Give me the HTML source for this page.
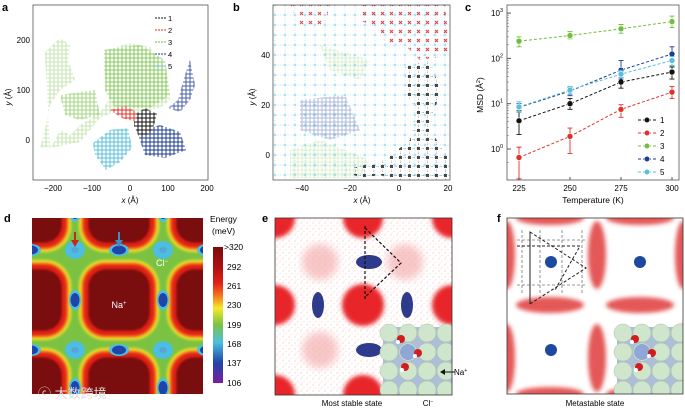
<!DOCTYPE html>
<html><head><meta charset="utf-8"><style>
html,body{margin:0;padding:0;width:685px;height:408px;overflow:hidden;background:#fff;}
svg{display:block;font-family:"Liberation Sans","Noto Sans CJK SC",sans-serif;}
</style></head><body>
<svg id="fig" width="685" height="408" viewBox="0 0 685 408" xmlns="http://www.w3.org/2000/svg">
<defs>
<pattern id="hg" width="4" height="4" patternUnits="userSpaceOnUse"><path d="M0 2H4M2 0V4" stroke="#6fbf3a" stroke-width="0.8"/></pattern>
<pattern id="hb" width="4" height="4" patternUnits="userSpaceOnUse"><path d="M0 2H4M2 0V4" stroke="#1d3b8f" stroke-width="1"/></pattern>
<pattern id="hc" width="4" height="4" patternUnits="userSpaceOnUse"><path d="M0 2H4M2 0V4" stroke="#56bfdc" stroke-width="1"/></pattern>
<pattern id="hk" width="4" height="4" patternUnits="userSpaceOnUse"><path d="M0 2H4M2 0V4" stroke="#111" stroke-width="1"/></pattern>
<pattern id="hr" width="4" height="4" patternUnits="userSpaceOnUse"><path d="M0 2H4M2 0V4" stroke="#e0302a" stroke-width="1"/></pattern>
<pattern id="gridb" width="10" height="10" patternUnits="userSpaceOnUse"><path d="M0 5H10M5 0V10" stroke="#8fd3e8" stroke-width="0.7" stroke-dasharray="1 1.5"/><circle cx="5" cy="5" r="1.3" fill="#8fd3e8"/></pattern>
<pattern id="bigk" width="9" height="9" patternUnits="userSpaceOnUse"><rect x="3" y="3" width="3" height="3" fill="#111"/><path d="M0 4.5H9M4.5 0V9" stroke="#555" stroke-width="0.5" stroke-dasharray="1 1.5"/></pattern>
<pattern id="bigr" width="9" height="9" patternUnits="userSpaceOnUse"><path d="M3 3l3 3M6 3l-3 3" stroke="#d8262a" stroke-width="1.2"/></pattern>
<pattern id="speck" width="6" height="6" patternUnits="userSpaceOnUse"><circle cx="1" cy="1" r="0.5" fill="#e03030"/><circle cx="4" cy="3.5" r="0.4" fill="#e03030"/><circle cx="2" cy="5" r="0.35" fill="#e03030"/></pattern>
<filter id="bl4"><feGaussianBlur stdDeviation="4"/></filter>
<filter id="bl2"><feGaussianBlur stdDeviation="2"/></filter>
<filter id="bl1"><feGaussianBlur stdDeviation="1.2"/></filter>
<linearGradient id="cbar" x1="0" y1="0" x2="0" y2="1">
<stop offset="0" stop-color="#7a0a0a"/><stop offset="0.15" stop-color="#b01010"/><stop offset="0.27" stop-color="#e32219"/><stop offset="0.36" stop-color="#f47a1c"/><stop offset="0.45" stop-color="#f5e92a"/><stop offset="0.57" stop-color="#7cc242"/><stop offset="0.7" stop-color="#4cc0e0"/><stop offset="0.85" stop-color="#2144a8"/><stop offset="1" stop-color="#7a1ea0"/></linearGradient>
</defs>

<g font-weight="bold" font-size="11">
<text x="2" y="11">a</text><text x="233" y="11">b</text><text x="465" y="11">c</text>
<text x="4" y="222">d</text><text x="262" y="222">e</text><text x="497" y="222">f</text>
</g>

<!-- PANEL A -->
<g>
<rect x="33" y="5" width="175" height="175" fill="#fff" stroke="#555" stroke-width="0.8"/>
<g>
<path d="M45 52 L60 38 L70 45 L68 60 L75 80 L60 90 L50 105 L45 130 L40 148 L52 146 L60 130 L70 135 L80 125 L92 118 L104 108 L110 95 L104 70 L108 50 L130 43 L150 47 L160 62 L168 80 L170 100 L160 108 L140 112 L118 110 L100 118 L80 142 L60 146 L50 148 Z" fill="url(#hg)" opacity="0.5"/>
<path d="M104 50 L140 45 L165 60 L170 95 L150 108 L115 108 L105 90 Z" fill="url(#hg)" opacity="0.9"/>
<path d="M60 95 L95 90 L100 115 L80 120 L65 115 Z" fill="url(#hg)" opacity="0.8"/>
<path d="M93 143 L110 130 L128 128 L132 148 L120 162 L106 170 L95 155 Z" fill="url(#hc)"/>
<path d="M137 132 L160 125 L180 132 L186 150 L165 158 L145 155 Z" fill="url(#hb)"/>
<path d="M168 108 L178 100 L185 75 L190 60 L195 85 L190 100 L180 112 Z" fill="url(#hb)" opacity="0.8"/>
<path d="M134 115 L145 108 L157 114 L152 132 L140 138 L134 126 Z" fill="url(#hk)"/>
<path d="M110 110 L125 106 L137 112 L136 122 L122 118 Z" fill="url(#hr)"/>
</g>
<g font-size="7.5">
<line x1="155" y1="18" x2="166" y2="18" stroke="#111" stroke-dasharray="2 1"/><text x="168" y="21">1</text>
<line x1="155" y1="30" x2="166" y2="30" stroke="#e0302a" stroke-dasharray="2 1"/><text x="168" y="33">2</text>
<line x1="155" y1="42" x2="166" y2="42" stroke="#6fbf3a" stroke-dasharray="2 1"/><text x="168" y="45">3</text>
<line x1="155" y1="54" x2="166" y2="54" stroke="#1d3b8f" stroke-dasharray="2 1"/><text x="168" y="57">4</text>
<line x1="155" y1="66" x2="166" y2="66" stroke="#56bfdc" stroke-dasharray="2 1"/><text x="168" y="69">5</text>
</g>
<g font-size="8" text-anchor="middle">
<text x="53" y="191">−200</text><text x="92" y="191">−100</text><text x="130" y="191">0</text><text x="168" y="191">100</text><text x="207" y="191">200</text>
</g>
<g font-size="8" text-anchor="end">
<text x="30" y="43">200</text><text x="30" y="93">100</text><text x="30" y="143">0</text>
</g>
<text x="130" y="203" font-size="8" text-anchor="middle"><tspan font-style="italic">x</tspan> (Å)</text>
<text transform="translate(11,97) rotate(-90)" font-size="8" text-anchor="middle"><tspan font-style="italic">y</tspan> (Å)</text>
</g>

<!-- PANEL B -->
<g>
<rect x="273" y="5" width="177" height="175" fill="url(#gridb)" opacity="0.7"/>
<path d="M300 100 L345 95 L360 130 L330 140 L300 130 Z" fill="url(#hb)" opacity="0.35"/>
<path d="M290 150 L320 140 L370 160 L360 178 L290 178 Z" fill="url(#hg)" opacity="0.3"/>
<path d="M320 45 L370 60 L360 80 L330 70 Z" fill="url(#hg)" opacity="0.3"/>
<path d="M290 5 L330 5 L325 25 L300 25 Z" fill="url(#bigr)" opacity="0.8"/>
<path d="M360 5 L445 5 L450 55 L420 60 L405 45 L385 42 L380 30 L360 20 Z" fill="url(#bigr)" opacity="0.85"/>
<path d="M405 65 L430 60 L440 90 L430 130 L450 160 L450 180 L395 180 L380 175 L360 178 L345 170 L385 160 L410 140 L415 110 L405 90 Z" fill="url(#bigk)" opacity="0.8"/>
<rect x="273" y="5" width="177" height="175" fill="none" stroke="#555" stroke-width="0.8"/>
<g font-size="8" text-anchor="middle">
<text x="302" y="191">−40</text><text x="350" y="191">−20</text><text x="399" y="191">0</text><text x="448" y="191">20</text>
</g>
<g font-size="8" text-anchor="end">
<text x="270" y="58">40</text><text x="270" y="108">20</text><text x="270" y="158">0</text>
</g>
<text x="362" y="203" font-size="8" text-anchor="middle"><tspan font-style="italic">x</tspan> (Å)</text>
<text transform="translate(255,97) rotate(-90)" font-size="8" text-anchor="middle"><tspan font-style="italic">y</tspan> (Å)</text>
</g>

<!-- PANEL C chart -->
<g id="chartc">
<rect x="507" y="5" width="172" height="175" fill="#fff" stroke="#555" stroke-width="0.8"/>
</g>

<!-- PANEL D -->
<g>
<clipPath id="cd"><rect x="32" y="218" width="171" height="176"/></clipPath>
<g clip-path="url(#cd)">
<rect x="32" y="218" width="171" height="176" fill="#7cc242"/>
<g id="naSquares" filter="url(#bl1)"></g>
<g id="clSpots"></g>
</g>
<path d="M75 232 V244" stroke="#c8261f" stroke-width="2"/><path d="M71 240 L75 247 L79 240Z" fill="#c8261f"/>
<path d="M119 232 V244" stroke="#3b8fc4" stroke-width="2"/><path d="M115 240 L119 247 L123 240Z" fill="#3b8fc4"/>
<text x="162" y="266" font-size="9" fill="#fff" text-anchor="middle">Cl<tspan font-size="6" dy="-3">−</tspan></text>
<text x="119" y="308" font-size="9" fill="#fff" text-anchor="middle">Na<tspan font-size="6" dy="-3">+</tspan></text>
<rect x="213" y="247" width="10" height="136" fill="url(#cbar)"/>
<g font-size="8.5">
<text x="210" y="222">Energy</text><text x="212" y="234">(meV)</text>
<text x="224" y="250">&gt;320</text><text x="227" y="270">292</text><text x="227" y="289">261</text><text x="227" y="308">230</text><text x="227" y="328">199</text><text x="227" y="347">168</text><text x="227" y="366">137</text><text x="227" y="386">106</text>
</g>
<text x="38" y="398" font-size="13" fill="#ddd">ⓒ 大数跨境</text>
</g>

<!-- PANEL E -->
<g>
<clipPath id="ce"><rect x="275" y="218" width="177" height="177"/></clipPath>
<g clip-path="url(#ce)">
<rect x="275" y="218" width="177" height="177" fill="#fff"/>
<rect x="275" y="218" width="177" height="177" fill="url(#speck)" opacity="0.5"/>
<g id="eBlobs"></g>
<ellipse cx="369" cy="262" rx="13" ry="7" fill="#2e3a8c"/><ellipse cx="369" cy="350" rx="13" ry="7" fill="#2e3a8c"/>
<ellipse cx="318" cy="305" rx="6" ry="13" fill="#2e3a8c"/><ellipse cx="407" cy="305" rx="6" ry="13" fill="#2e3a8c"/>
<path d="M365 226 V300 M365 228 L401 263 L365 297" stroke="#111" stroke-width="1.2" fill="none" stroke-dasharray="3 2"/>
<g><rect x="383" y="327" width="69" height="68" fill="#aebdd8"/>
<g id="insetE"></g></g>
</g>
<rect x="275" y="218" width="177" height="177" fill="none" stroke="#333" stroke-width="0.8"/>
<path d="M455 372 H442" stroke="#111"/><path d="M445 369 L440 372 L445 375Z" fill="#111"/>
<text x="454" y="375" font-size="8">Na<tspan font-size="5" dy="-3">+</tspan></text>
<text x="428" y="406" font-size="8" text-anchor="middle">Cl<tspan font-size="5" dy="-3">−</tspan></text>
<text x="352" y="406" font-size="8" text-anchor="middle">Most stable state</text>
</g>

<!-- PANEL F -->
<g>
<clipPath id="cf"><rect x="507" y="218" width="176" height="176"/></clipPath>
<g clip-path="url(#cf)">
<rect x="507" y="218" width="176" height="176" fill="#fff"/>
<g fill="#e03a3a" opacity="0.85" filter="url(#bl2)">
<ellipse cx="597" cy="255" rx="9" ry="34"/><ellipse cx="597" cy="358" rx="9" ry="34"/>
<ellipse cx="507" cy="255" rx="8" ry="34"/><ellipse cx="507" cy="358" rx="8" ry="34"/>
<ellipse cx="683" cy="255" rx="8" ry="34"/><ellipse cx="683" cy="358" rx="8" ry="34"/>
<ellipse cx="550" cy="305" rx="34" ry="8"/><ellipse cx="640" cy="305" rx="34" ry="8"/>
<ellipse cx="550" cy="218" rx="34" ry="7"/><ellipse cx="640" cy="218" rx="34" ry="7"/>
<ellipse cx="550" cy="394" rx="34" ry="7"/><ellipse cx="640" cy="394" rx="34" ry="7"/>
</g>
<circle cx="551" cy="262" r="6" fill="#1d4aa0"/><circle cx="640" cy="262" r="6" fill="#1d4aa0"/><circle cx="551" cy="350" r="6" fill="#1d4aa0"/>
<path d="M517 240 H586 M517 285 H586 M522 230 V295 M540 230 V295 M562 230 V295 M582 230 V295" stroke="#777" stroke-width="0.8" stroke-dasharray="3 2"/>
<path d="M530 232 L586 268 L530 304 Z M530 232 V304 M517 246 L580 246 L555 290" stroke="#222" stroke-width="1" fill="none" stroke-dasharray="3 2"/>
<g><rect x="617" y="327" width="66" height="67" fill="#aebdd8"/><g id="insetF"></g></g>
</g>
<rect x="507" y="218" width="176" height="176" fill="none" stroke="#333" stroke-width="0.8"/>
<text x="595" y="406" font-size="8" text-anchor="middle">Metastable state</text>
</g>
</svg>
<script>
// ===== Panel c data =====
const temps = [225, 250, 275, 300];
const xTickLabels = ["225", "250", "275", "300"];
const yTickExps = [0, 1, 2, 3];
const seriesNames = ["1", "2", "3", "4", "5"];
const s1 = [4.2, 10, 30, 50];
const s2 = [0.65, 1.9, 7.5, 18];
const s3 = [240, 320, 450, 650];
const s4 = [8.3, 19, 55, 125];
const s5 = [8.5, 20, 45, 90];
const s1lo = [2.1, 7.5, 22, 35], s1hi = [7, 13, 38, 65];
const s2lo = [0.22, 0.8, 5, 13], s2hi = [1.1, 2.9, 9.5, 24];
const s3lo = [180, 270, 360, 480], s3hi = [300, 390, 560, 860];
const s4lo = [6.5, 15, 35, 90], s4hi = [10, 23, 90, 180];
const s5lo = [6.5, 16, 38, 70], s5hi = [11, 24, 55, 110];

const NS = "http://www.w3.org/2000/svg";
function mk(tag, attrs, parent){const e=document.createElementNS(NS,tag);for(const k in attrs)e.setAttribute(k,attrs[k]);parent.appendChild(e);return e;}
const xS = t => 519 + (t - 225) * 153 / 75;
const yS = v => 149 - Math.log10(v) * 45.3;
const gc = document.getElementById('chartc');
const colors = ["#111", "#e0302a", "#6fbf3a", "#1d3b8f", "#56bfdc"];
const vals = [s1, s2, s3, s4, s5], los = [s1lo, s2lo, s3lo, s4lo, s5lo], his = [s1hi, s2hi, s3hi, s4hi, s5hi];

temps.forEach((t, i) => {
  const tk = mk('line', {x1: xS(t), x2: xS(t), y1: 180, y2: 177, stroke: '#555'}, gc);
  
  
  const lb = mk('text', {x: xS(t), y: 191, 'font-size': 8, 'text-anchor': 'middle'}, gc);
  lb.textContent = xTickLabels[i];
  
  
});
yTickExps.forEach(e => {
  const y = yS(Math.pow(10, e));
  const tk = mk('line', {x1: 507, x2: 511, y1: y, y2: y, stroke: '#555'}, gc);
  
  
  const lb = mk('text', {x: 503, y: y + 3, 'font-size': 8, 'text-anchor': 'end'}, gc);
  lb.innerHTML = '10<tspan font-size="5.5" dy="-4">' + e + '</tspan>';
  
  
  for (let m = 2; m < 10; m++) {
    const ym = yS(m * Math.pow(10, e));
    if (ym > 6 && ym < 179) mk('line', {x1: 507, x2: 509, y1: ym, y2: ym, stroke: '#777', 'stroke-width': 0.6}, gc);
  }
});
const mYm = yS(0.5); mk('line', {x1: 507, x2: 509, y1: mYm, y2: mYm, stroke: '#777', 'stroke-width': 0.6}, gc);
const xt = mk('text', {x: 593, y: 203, 'font-size': 8.5, 'text-anchor': 'middle'}, gc);
xt.textContent = 'Temperature (K)';


const yt = mk('text', {transform: 'translate(483,95) rotate(-90)', 'font-size': 8.5, 'text-anchor': 'middle'}, gc);
yt.innerHTML = 'MSD (Å<tspan font-size="5.5" dy="-3">2</tspan><tspan dy="3">)</tspan>';



vals.forEach((arr, si) => {
  const g = mk('g', {}, gc);
  
  
  const pts = arr.map((v, i) => xS(temps[i]) + ',' + yS(v)).join(' ');
  const ln = mk('polyline', {points: pts, fill: 'none', stroke: colors[si], 'stroke-width': 1, 'stroke-dasharray': '3 2'}, g);
  
  
  arr.forEach((v, i) => {
    const x = xS(temps[i]);
    const yl = Math.min(180, yS(los[si][i]));
    const eb = mk('path', {d: `M${x} ${yS(his[si][i])}V${yl}M${x-2.5} ${yS(his[si][i])}h5M${x-2.5} ${yl}h5`, stroke: colors[si], 'stroke-width': 0.9, fill: 'none'}, g);
    
    
    const c = mk('circle', {cx: x, cy: yS(v), r: 3, fill: colors[si], stroke: '#fff', 'stroke-width': 0.6}, g);
    
    
  });
  const ly = 120 + si * 13;
  const le = mk('g', {}, gc);
  
  
  mk('line', {x1: 638, x2: 656, y1: ly, y2: ly, stroke: colors[si], 'stroke-dasharray': '3 2'}, le);
  mk('circle', {cx: 647, cy: ly, r: 2.8, fill: colors[si], stroke: '#fff', 'stroke-width': 0.6}, le);
  const lt = mk('text', {x: 660, y: ly + 3, 'font-size': 8}, le);
  lt.textContent = seriesNames[si];
});

// ===== Panel d decoration =====
const nq = document.getElementById('naSquares');
const naCenters = [];
[31, 119, 207].forEach(x => [212, 300, 388].forEach(y => naCenters.push([x, y])));
naCenters.forEach(([x, y]) => {
  mk('rect', {x: x - 40, y: y - 40, width: 80, height: 80, rx: 26, fill: '#f5e92a'}, nq);
  mk('rect', {x: x - 38, y: y - 38, width: 76, height: 76, rx: 24, fill: '#f47a1c'}, nq);
  mk('rect', {x: x - 36, y: y - 36, width: 72, height: 72, rx: 22, fill: '#e32219'}, nq);
  mk('rect', {x: x - 31, y: y - 31, width: 62, height: 62, rx: 18, fill: '#7a0a0a'}, nq);
});
const cs = document.getElementById('clSpots');
[[75,250],[163,250],[75,350],[163,350]].forEach(([x,y]) => {mk('ellipse', {cx: x, cy: y, rx: 10, ry: 9, fill: '#4cbfe0'}, cs); mk('ellipse',{cx:x,cy:y,rx:4,ry:3,fill:'#5aa4dc'},cs);});
[[119,250],[119,350],[31,250],[31,350],[207,250],[207,350]].forEach(([x,y])=>{mk('ellipse',{cx:x,cy:y,rx:10,ry:6,fill:'#4cbfe0'},cs);mk('ellipse',{cx:x,cy:y,rx:7,ry:4.5,fill:'#2144a8'},cs);});
[[75,300],[163,300],[75,212],[163,212],[75,388],[163,388]].forEach(([x,y])=>{mk('ellipse',{cx:x,cy:y,rx:6,ry:10,fill:'#4cbfe0'},cs);mk('ellipse',{cx:x,cy:y,rx:4.5,ry:7,fill:'#2144a8'},cs);});

// ===== Panel e blobs =====
const eb = document.getElementById('eBlobs');
[[320,262],[405,262],[320,350],[405,350]].forEach(([x,y]) => mk('circle',{cx:x,cy:y,r:18,fill:'#f4b0b0',opacity:0.7,filter:'url(#bl4)'},eb));
[275, 363, 452].forEach(x => [218, 305, 395].forEach(y => {
  mk('circle', {cx: x, cy: y, r: (x === 363 && y === 305) ? 21 : 20, fill: '#e8262a', filter: 'url(#bl2)'}, eb);
}));

function inset(id, x0, y0) {
  const g = document.getElementById(id);
  for (let i = 0; i < 4; i++) for (let j = 0; j < 4; j++) {
    mk('circle', {cx: x0 + 6 + i * 19, cy: y0 + 6 + j * 19, r: 9, fill: '#cfe5cc', stroke: '#a9c3a8', 'stroke-width': 0.5}, g);
  }
  mk('circle', {cx: x0 + 25, cy: y0 + 25, r: 8, fill: '#8fa6d6'}, g);
  [[x0+18,y0+12],[x0+35,y0+26],[x0+22,y0+40]].forEach(([x,y])=>{mk('circle',{cx:x,cy:y,r:4,fill:'#d01e1e'},g);mk('circle',{cx:x-3,cy:y+3,r:2,fill:'#fff'},g);});
}
inset('insetE', 383, 327);
inset('insetF', 617, 327);
</script>
</body></html>
